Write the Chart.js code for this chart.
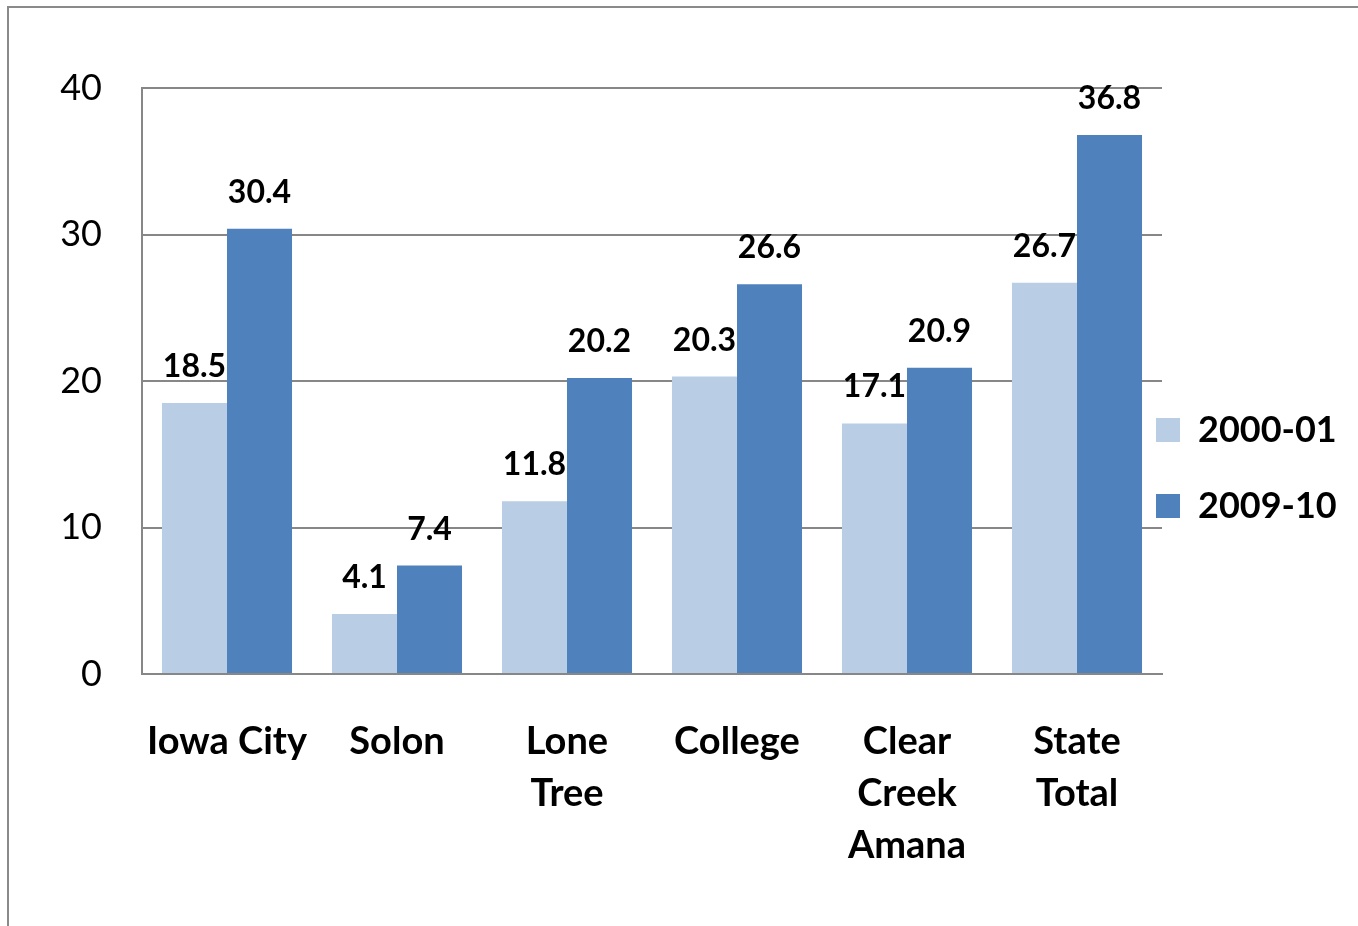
<!DOCTYPE html>
<html>
<head>
<meta charset="utf-8">
<script src="https://cdn.jsdelivr.net/npm/chart.js@4/dist/chart.umd.min.js"></script>
<style>
  html, body { margin: 0; padding: 0; background: #fff; }
  #wrap { position: relative; width: 1358px; height: 926px; overflow: hidden; }
  #frame { position: absolute; left: 7px; top: 6px; width: 1400px; height: 1000px;
           border-left: 2px solid #8a8a8a; border-top: 2px solid #8a8a8a; box-sizing: border-box; }
  canvas { position: absolute; left: 0; top: 0; }
</style>
</head>
<body>
<div id="wrap">
  <div id="frame"></div>
  <canvas id="c" width="1358" height="926"></canvas>
</div>
<script>
const categories = [
  'Iowa City',
  'Solon',
  ['Lone', 'Tree'],
  'College',
  ['Clear', 'Creek', 'Amana'],
  ['State', 'Total']
];
const series2000 = [18.5, 4.1, 11.8, 20.3, 17.1, 26.7];
const series2009 = [30.4, 7.4, 20.2, 26.6, 20.9, 36.8];
const seriesNames = ['2000-01', '2009-10'];
const yTicks = [0, 10, 20, 30, 40];

const FONT = 'Lato, "Open Sans", sans-serif';
const GRID = '#878787';
const LEGEND_PAD = 40;

const valueLabels = {
  id: 'valueLabels',
  afterDatasetsDraw(chart) {
    const ctx = chart.ctx;
    ctx.save();
    ctx.font = 'bold 32px ' + FONT;
    ctx.fillStyle = '#000';
    ctx.textAlign = 'center';
    ctx.textBaseline = 'alphabetic';
    chart.data.datasets.forEach((ds, di) => {
      const meta = chart.getDatasetMeta(di);
      meta.data.forEach((bar, i) => {
        ctx.fillText(ds.data[i].toFixed(1), bar.x, bar.y - 26);
      });
    });
    ctx.restore();
  }
};

const legendShift = {
  id: 'legendShift',
  afterLayout(chart) {
    const lg = chart.legend;
    if (!lg) return;
    lg.left = 1156 - LEGEND_PAD;
    lg.right = chart.width;
    lg.width = lg.right - lg.left;
    lg.top -= 39; lg.bottom -= 39;
  }
};

new Chart(document.getElementById('c'), {
  type: 'bar',
  data: {
    labels: categories,
    datasets: [
      { label: seriesNames[0], data: series2000, backgroundColor: '#B9CDE5', borderWidth: 0 },
      { label: seriesNames[1], data: series2009, backgroundColor: '#4F81BD', borderWidth: 0 }
    ]
  },
  options: {
    responsive: false,
    animation: false,
    events: [],
    layout: { padding: { left: 0, top: 88, right: 0, bottom: 0 } },
    plugins: {
      legend: {
        position: 'right',
        maxWidth: 196,
        labels: {
          font: { family: FONT, size: 36, weight: 'bold' },
          color: '#000',
          boxWidth: 24,
          boxHeight: 24,
          padding: LEGEND_PAD
        }
      },
      tooltip: { enabled: false }
    },
    datasets: { bar: { categoryPercentage: 0.765, barPercentage: 1.0 } },
    scales: {
      x: {
        grid: { display: false, drawTicks: false },
        border: { display: true, color: GRID, width: 2 },
        ticks: {
          font: { family: FONT, size: 38, weight: 'bold', lineHeight: 1.37 },
          color: '#000',
          padding: 42,
          maxRotation: 0,
          autoSkip: false
        },
        afterFit(scale) { scale.height = 926 - 88 - 586; }
      },
      y: {
        min: 0, max: 40,
        afterBuildTicks(scale) { scale.ticks = yTicks.map(v => ({ value: v })); },
        grid: { color: GRID, lineWidth: 2, drawTicks: false },
        border: { display: true, color: GRID, width: 2 },
        ticks: {
          font: { family: FONT, size: 36 },
          color: '#000',
          padding: 40
        },
        afterFit(scale) { scale.width = 142; }
      }
    }
  },
  plugins: [valueLabels, legendShift]
});
</script>
</body>
</html>
